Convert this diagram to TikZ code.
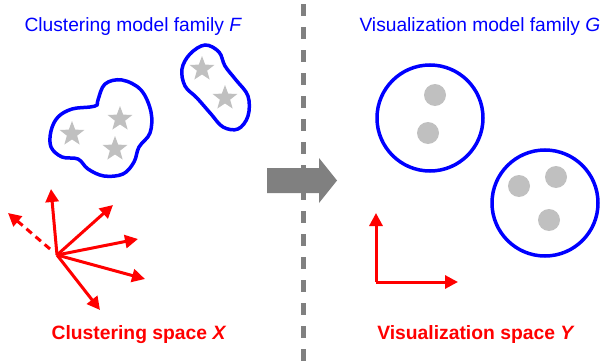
\documentclass[tikz,border=0pt]{standalone}
\usepackage{fontspec}
\setmainfont{Liberation Sans}
\usetikzlibrary{arrows.meta,shapes.geometric}

\definecolor{pureblue}{RGB}{0,0,255}
\definecolor{purered}{RGB}{255,0,0}
\definecolor{arrowgray}{RGB}{128,128,128}
\definecolor{pointgray}{RGB}{192,192,192}

\tikzset{
  blob/.style={pureblue,line width=3.5pt},
  pt/.style={star,star points=5,star point ratio=2.4,fill=pointgray,inner sep=0pt,minimum size=26pt},
  dot/.style={circle,fill=pointgray,inner sep=0pt,minimum size=22pt},
  ring/.style={circle,draw=pureblue,line width=3.5pt,inner sep=0pt,minimum size=106pt},
  vec/.style={purered,line width=3pt,-{Triangle[length=13pt,width=13pt]}},
  famlabel/.style={pureblue,font=\fontsize{19.2}{21}\selectfont},
  spacelabel/.style={purered,font=\fontsize{19.3}{21}\selectfont\bfseries}
}

\begin{document}
\begin{tikzpicture}[x=1pt,y=-1pt]
\useasboundingbox (0,0) rectangle (606,364);

% separator
\draw[arrowgray,line width=5pt,dash pattern=on 12pt off 11pt,dash phase=-4pt] (303,0)--(303,364);

% clustering side
\node[famlabel,anchor=west] (cfam) at (21,27) {Clustering model family \textit{F}};

\draw[blob] plot[smooth cycle,tension=0.6] coordinates {(98,100) (105,84) (122,80) (141,90) (151,112) (150,133) (139,147) (134,162) (123,174) (104,176) (88,169) (78,159) (62,157) (51,147) (51,131) (58,117) (72,109) (90,107) (97,105)};
\draw[blob] plot[smooth cycle,tension=0.6] coordinates {(205,45) (219,52) (225,66) (236,80) (248,96) (248,116) (238,129) (223,127) (211,114) (197,98) (185,86) (182,69) (190,54)};

\node[pt] (s1) at (72,134) {};
\node[pt] (s2) at (120,119) {};
\node[pt] (s3) at (115,149) {};
\node[pt] (s4) at (202,69) {};
\node[pt] (s5) at (225,98) {};

\coordinate (o) at (57,255);
\coordinate (c1) at (51,189);
\coordinate (c2) at (113,205);
\coordinate (c3) at (138,239);
\coordinate (c4) at (145,279);
\coordinate (c5) at (100,310);
\coordinate (c6) at (8,213);
\coordinate (c6s) at (50,249);
\foreach \t in {c1,c2,c3,c4,c5}
  \draw[vec] (o)--(\t);
\draw[vec,dash pattern=on 7pt off 5pt] (c6s)--(c6);

\node[spacelabel] (cspace) at (139,335) {Clustering space \textit{X}};

% transfer arrow
\fill[arrowgray] (267,168)--(319,168)--(319,158)--(337,180.5)--(319,203)--(319,193)--(267,193)--cycle;

% visualization side
\node[famlabel,anchor=west] (vfam) at (356,27) {Visualization model family \textit{G}};

\node[ring] (g1) at (430,118) {};
\node[dot] (d1) at (435,95) {};
\node[dot] (d2) at (428,133) {};

\node[ring] (g2) at (545,203) {};
\node[dot] (d3) at (519,186) {};
\node[dot] (d4) at (556,177) {};
\node[dot] (d5) at (549,220) {};

\coordinate (yo) at (376,282);
\coordinate (yup) at (376,213);
\coordinate (yright) at (458,282);
\draw[vec] (yo)--(yup);
\draw[vec] (yo)--(yright);

\node[spacelabel] (vspace) at (476,335) {Visualization space \textit{Y}};
\end{tikzpicture}
\end{document}
